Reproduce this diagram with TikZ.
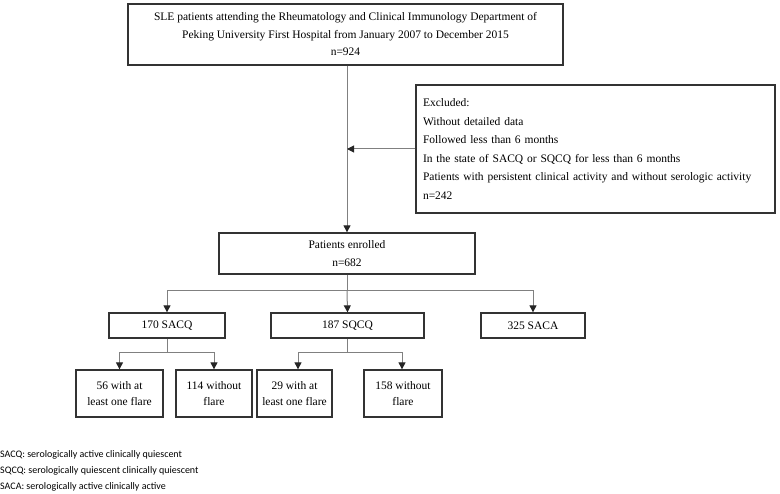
\documentclass[tikz,border=0pt]{standalone}
\usepackage{fontspec}
\setmainfont{Liberation Serif}
\newfontfamily\legfont{Carlito}
\usetikzlibrary{arrows.meta,calc}
\begin{document}
\begin{tikzpicture}[x=1pt,y=-1pt,
  box/.style={draw=black!80,line width=1.3pt,inner sep=0pt,align=center,font=\fontsize{11.5}{17.5}\selectfont},
  conn/.style={draw=black!50,line width=1pt},
  arr/.style={conn,-{Triangle[length=7pt,width=7pt,color=black!85]}},
  legtext/.style={anchor=west,inner sep=0pt,font=\legfont\fontsize{10}{12}\selectfont}]
\useasboundingbox (0,0) rectangle (780,494);
% boxes
\node[box,minimum width=435pt,minimum height=61pt] (top) at (345.5,34.5)
  {SLE patients attending the Rheumatology and Clinical Immunology Department of\\
   Peking University First Hospital from January 2007 to December 2015\\ n=924};
\node[box,minimum width=359pt,minimum height=128pt,align=left,text width=345pt,
  font=\fontsize{11.5}{18.6}\selectfont] (excl) at (595.5,149)
  {Excluded:\\Without detailed data\\Followed less than 6 months\\
   In the state of SACQ or SQCQ for less than 6 months\\
   Patients with persistent clinical activity and without serologic activity\\n=242};
\node[box,minimum width=256pt,minimum height=41pt] (enr) at (347,253.5)
  {Patients enrolled\\n=682};
\node[box,minimum width=116pt,minimum height=25pt] (sacq) at (167,325.5) {170 SACQ};
\node[box,minimum width=153pt,minimum height=25pt] (sqcq) at (347.5,325.5) {187 SQCQ};
\node[box,minimum width=104pt,minimum height=25pt] (saca) at (533,325.5) {325 SACA};
\tikzset{sub/.style={box,minimum height=47pt,font=\fontsize{11.5}{16}\selectfont}}
\node[sub,minimum width=87pt] (b1) at (119.5,393.5) {56 with at\\least one flare};
\node[sub,minimum width=76pt] (b2) at (214,393.5) {114 without\\flare};
\node[sub,minimum width=75pt] (b3) at (294.5,393.5) {29 with at\\least one flare};
\node[sub,minimum width=78pt] (b4) at (403,393.5) {158 without\\flare};
% connectors
\coordinate (m1) at (enr.north |- top.south);
\draw[arr] (m1) -- (enr.north);
\coordinate (m2) at (enr.north |- excl.west);
\draw[arr] (excl.west) -- (m2);
\coordinate (br) at ($(enr.south)+(0,16)$);
\draw[conn] (enr.south) -- (br);
\draw[arr] (br) -| (sacq.north);
\draw[arr] (br) -| (saca.north);
\draw[arr] (br) -- (sqcq.north);
\coordinate (s1) at ($(sacq.south)+(0,14)$);
\draw[conn] (sacq.south) -- (s1);
\draw[arr] (s1) -| (b1.north);
\draw[arr] (s1) -| (b2.north);
\coordinate (s2) at ($(sqcq.south)+(0,14)$);
\draw[conn] (sqcq.south) -- (s2);
\draw[arr] (s2) -| ($(b3.north)+(3.5,0)$);
\draw[arr] (s2) -| ($(b4.north)+(-1,0)$);
% legend
\node[legtext] (l1) at (0,455) {SACQ: serologically active clinically quiescent};
\node[legtext] (l2) at (0,471) {SQCQ: serologically quiescent clinically quiescent};
\node[legtext] (l3) at (0,487) {SACA: serologically active clinically active};
\end{tikzpicture}
\end{document}
